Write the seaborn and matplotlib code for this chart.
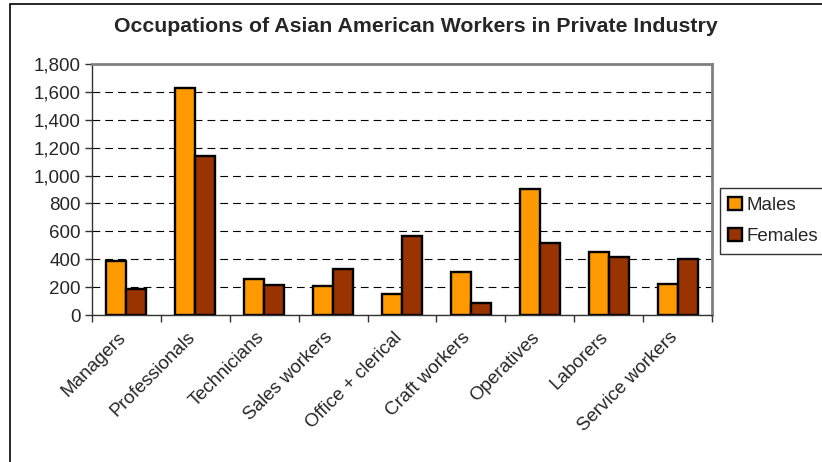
import numpy as np
import pandas as pd
import matplotlib.pyplot as plt
import seaborn as sns
from matplotlib.patches import Rectangle
from matplotlib.ticker import FuncFormatter, FixedLocator

# Data (thousands of workers)
occupations = ["Managers", "Professionals", "Technicians", "Sales workers",
               "Office + clerical", "Craft workers", "Operatives", "Laborers",
               "Service workers"]
males = [390, 1625, 260, 205, 148, 308, 906, 453, 222]
females = [184, 1140, 215, 330, 566, 83, 513, 415, 400]
series = ["Males", "Females"]
colors = {"Males": "#FF9900", "Females": "#993300"}

df = pd.DataFrame({
    "Occupation": occupations * 2,
    "Sex": ["Males"] * len(occupations) + ["Females"] * len(occupations),
    "Workers": males + females,
})

sns.set_style("white")
plt.rcParams["font.family"] = ["Liberation Sans", "DejaVu Sans"]

fig = plt.figure(figsize=(8.22, 4.62), dpi=100)
ax = fig.add_axes([92 / 822, 1 - 315 / 462, 620 / 822, 251 / 462])

sns.barplot(data=df, x="Occupation", y="Workers", hue="Sex", hue_order=series,
            palette=colors, width=0.58, edgecolor="black", linewidth=1.7,
            saturation=1, ax=ax, legend=True)

ax.set_xlim(-0.5, len(occupations) - 0.5)
ax.set_ylim(0, 1800)
ax.set_yticks(np.arange(0, 1801, 200))
ax.yaxis.set_major_formatter(FuncFormatter(lambda v, p: f"{int(v):,}"))
ax.grid(axis="y", color="black", linestyle=(0, (7, 4.5)), linewidth=0.8)
ax.set_axisbelow(True)

# category labels (nudged a little left, as in the original), tick marks on
# the category boundaries (Excel style)
ax.set_xticks(np.arange(len(occupations)) - 0.13)
ax.set_xticklabels(occupations, rotation=45, ha="right", rotation_mode="anchor",
                   fontsize=13.5)
ax.xaxis.set_minor_locator(FixedLocator(np.arange(-0.5, len(occupations), 1)))
ax.tick_params(axis="x", which="major", length=0, pad=10)
ax.tick_params(axis="x", which="minor", length=5, width=1, color="#333333",
               direction="out", bottom=True)
ax.tick_params(axis="y", length=5, width=1, color="#333333", direction="out",
               left=True, labelsize=13.5, pad=3)

ax.set_xlabel("")
ax.set_ylabel("")
for side in ["top", "right"]:
    ax.spines[side].set_color("#808080")
    ax.spines[side].set_linewidth(2)
for side in ["left", "bottom"]:
    ax.spines[side].set_color("#333333")
    ax.spines[side].set_linewidth(1)

ax.legend(loc="center left", bbox_to_anchor=(720 / 822, 1 - 221 / 462),
          bbox_transform=fig.transFigure, frameon=True, fancybox=False,
          edgecolor="black", fontsize=13.5, handlelength=0.7, handleheight=0.7,
          handletextpad=0.25, borderpad=0.45, labelspacing=0.75, borderaxespad=0)
ax.get_legend().get_frame().set_linewidth(1)

fig.suptitle("Occupations of Asian American Workers in Private Industry",
             x=(10 + 822) / 2 / 822, y=1 - 26 / 462, va="center",
             fontsize=15.3, fontweight="bold")

# chart-area border
fig.patches.append(Rectangle((10 / 822, -0.05), 1.0, 1 - 4 / 462 + 0.05,
                             transform=fig.transFigure, fill=False,
                             edgecolor="black", linewidth=1.2))

plt.savefig("out.png", dpi=100)
